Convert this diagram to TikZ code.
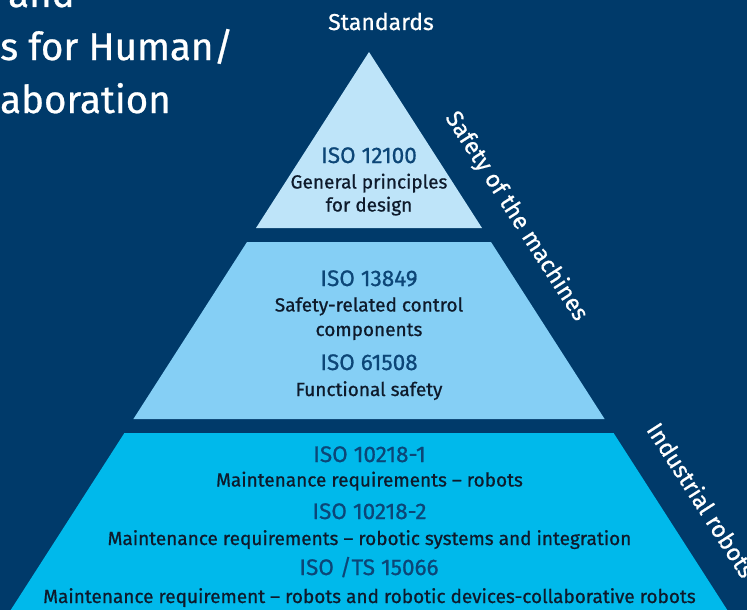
\documentclass[tikz,border=0pt]{standalone}
\usepackage{fontspec}
\setmainfont{Fira Sans}[FakeBold=0.7]
\definecolor{bgnavy}{HTML}{003A6A}
\definecolor{tierone}{HTML}{BEE4F9}
\definecolor{tiertwo}{HTML}{85CFF5}
\definecolor{tierthree}{HTML}{00B9EB}
\definecolor{isoblue}{HTML}{0C4677}
\definecolor{descdark}{HTML}{0E1A2B}
\begin{document}
\begin{tikzpicture}[x=1pt,y=-1pt,
  iso/.style={anchor=base,text=isoblue,font=\fontsize{22.5}{26}\selectfont,inner sep=0pt},
  desc/.style={anchor=base,text=descdark,font=\fontsize{19}{23}\selectfont,inner sep=0pt},
  side/.style={anchor=mid west,text=white,font=\fontsize{23.5}{27}\selectfont,rotate=-57.3,inner sep=0pt},
  titletext/.style={anchor=base west,text=white,font=\fontsize{38.5}{46}\selectfont,inner sep=0pt}]
\useasboundingbox (0,0) rectangle (747,610);
\fill[bgnavy] (0,0) rectangle (747,610);
\clip (0,0) rectangle (747,610);
% pyramid tiers
\fill[tierone] (369,52) -- (256,228) -- (482,228) -- cycle;
\fill[tiertwo] (247,242) -- (491,242) -- (604.6,419) -- (133.4,419) -- cycle;
\fill[tierthree] (124.4,433) -- (613.6,433) -- (733.7,620) -- (4.3,620) -- cycle;
% title (cropped)
\node[titletext] (tl1) at (8,7) {and};
\node[titletext] (tl2) at (0,60) {s for Human/};
\node[titletext] (tl3) at (0,113) {aboration};
% header
\node[anchor=base,text=white,font=\fontsize{23}{27}\selectfont,inner sep=0pt] (std) at (381,30) {Standards};
% side labels
\node[side] (safety) at (447,116) {Safety of the machines};
\node[side] (indus) at (648,428) {Industrial robots};
% top tier
\node[iso] (iso12100) at (369,163) {ISO 12100};
\node[desc] (d12100a) at (369,188.5) {General principles};
\node[desc] (d12100b) at (369,211.5) {for design};
% middle tier
\node[iso] (iso13849) at (369,286) {ISO 13849};
\node[desc] (d13849a) at (369,311.5) {Safety-related control};
\node[desc] (d13849b) at (369,336) {components};
\node[iso] (iso61508) at (369,370) {ISO 61508};
\node[desc] (d61508) at (369,396) {Functional safety};
% bottom tier
\node[iso] (iso10218a) at (369.5,462) {ISO 10218-1};
\node[desc] (d10218a) at (369.5,486.5) {Maintenance requirements – robots};
\node[iso] (iso10218b) at (369.5,519) {ISO 10218-2};
\node[desc] (d10218b) at (369.5,545) {Maintenance requirements – robotic systems and integration};
\node[iso] (iso15066) at (369,575) {ISO /TS 15066};
\node[desc] (d15066) at (369.5,603) {Maintenance requirement – robots and robotic devices-collaborative robots};
\end{tikzpicture}
\end{document}
